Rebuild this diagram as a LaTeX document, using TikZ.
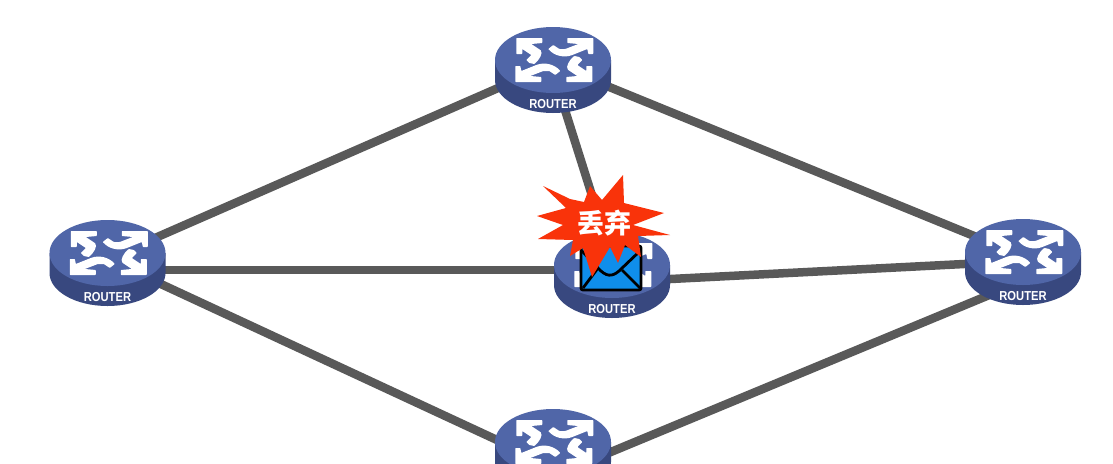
\documentclass[tikz,border=0pt]{standalone}
\usepackage{fontspec}
\setmainfont{Liberation Sans}
\newfontfamily\cjk{Noto Sans CJK SC}
\definecolor{rtop}{HTML}{5066A8}
\definecolor{rside}{HTML}{38487F}
\definecolor{linkc}{HTML}{595959}
\definecolor{burst}{HTML}{F9330A}
\definecolor{mailc}{HTML}{0F8EEB}
\tikzset{
  x=1pt,y=-1pt,
  linkline/.style={draw=linkc,line width=8.5pt},
  routerlabel/.style={text=white,inner sep=0pt,xscale=.86,transform shape,font=\bfseries\fontsize{13}{13}\selectfont},
  mailline/.style={black,line width=2.8pt,line join=round},
  pics/routerbody/.style={code={
    \fill[rside] (-58,0) -- (-58,20) arc[start angle=180,end angle=0,x radius=58,y radius=33] -- (58,0) -- cycle;
    \fill[rtop] (0,0) ellipse[x radius=58,y radius=33];
    \begin{scope}[xshift=1.3pt]
    \foreach \rot in {0,180}{
      \fill[white,rotate=\rot,rounded corners=.6pt] (-38,-22) -- (-12,-22) -- (-12,-17) -- (-23,-16) -- (-14,-10) .. controls (-11,-7) and (-15,0) .. (-20,4) -- (-25,3) -- (-28,0) -- (-23,-5) -- (-32,-11) -- (-32,-6) -- (-38,-6) -- cycle;
      \fill[white,rotate=\rot,rounded corners=.6pt] (39,-22) -- (13,-22) -- (13,-17) -- (24,-16) -- (11,-11) -- (5,-11) -- (-1,-15) -- (-6,-11) .. controls (0,-4) and (10,-2) .. (18,-5) -- (33,-11) -- (34,-6) -- (39,-6) -- cycle;
    }
    \end{scope}
  }},
  pics/router/.style={code={
    \pic {routerbody};
    \node[routerlabel] (-label) at (0,44) {ROUTER};
  }}
}
\begin{document}
\begin{tikzpicture}
\useasboundingbox (0,0) rectangle (1113,463);
\fill[white] (0,0) rectangle (1113,463);
\coordinate (pTop) at (553,64);
\coordinate (pTopB) at (553,72);
\coordinate (pLeft) at (107,259);
\coordinate (pLeftH) at (107,270);
\coordinate (pMid) at (612,270);
\coordinate (pMidR) at (612,282);
\coordinate (pMidU) at (595,205);
\coordinate (pRight) at (1023,261);
\coordinate (pRightU) at (1023,256);
\coordinate (pRightD) at (1023,281);
\coordinate (pBot) at (553,466);
\coordinate (pBotR) at (553,476);
\draw[linkline] (pLeft) -- (pTop);
\draw[linkline] (pTop) -- (pRightU);
\draw[linkline] (pTopB) -- (pMidU);
\draw[linkline] (pLeftH) -- (pMid);
\draw[linkline] (pMidR) -- (pRight);
\draw[linkline] (pLeft) -- (pBot);
\draw[linkline] (pBotR) -- (pRightD);
\pic (rt) at (553,60) {router};
\pic (rl) at (107.5,253) {router};
\pic (rm) at (612,265) {router};
\pic (rr) at (1023,252) {router};
\pic (rb) at (553,442) {routerbody};
\fill[mailc,draw=black,line width=2.8pt,rounded corners=2pt] (581,246) rectangle (641,290);
\draw[mailline] (581,250) -- (598,268) .. controls (606,277) and (612,277) .. (619,271) -- (641,250);
\draw[mailline] (583,288) -- (598,268);
\draw[mailline] (640,288) -- (622,270);
\fill[burst] (543,186) -- (570,199) -- (584,202) -- (590,186) -- (602,200) -- (623,175) -- (624,203) -- (664,213) -- (633,225) -- (670,235) -- (638,236) -- (641,257) -- (625,245) -- (618,263) -- (610,247) -- (592,277) -- (583,248) -- (570,256) -- (573,240) -- (538,239) -- (563,225) -- (537,216) -- (566,208) -- cycle;
\node[text=white,inner sep=0pt,font=\cjk\bfseries\fontsize{27}{29}\selectfont] (lost) at (604,223) {丢弃};
\end{tikzpicture}
\end{document}
